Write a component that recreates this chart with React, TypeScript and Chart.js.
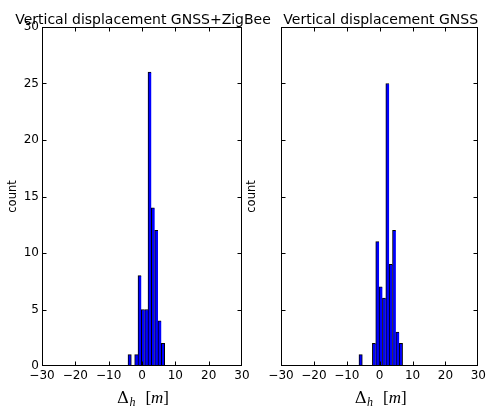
import React, { useEffect, useRef } from "react";
import { Chart, registerables } from "chart.js";

Chart.register(...registerables);

// ---- data ----
const LEFT_TITLE = "Vertical displacement GNSS+ZigBee";
const RIGHT_TITLE = "Vertical displacement GNSS";
const Y_LABEL = "count";
const X_TICKS = [-30, -20, -10, 0, 10, 20, 30];
const Y_TICKS = [0, 5, 10, 15, 20, 25, 30];

const leftBinCenters = [-3.7, -2.7, -1.7, -0.7, 0.3, 1.3, 2.3, 3.3, 4.3, 5.3, 6.3];
const leftCounts = [1, 0, 1, 8, 5, 5, 26, 14, 12, 4, 2];

const rightBinCenters = [-5.79, -4.77, -3.75, -2.73, -1.71, -0.69, 0.33, 1.35, 2.37, 3.39, 4.41, 5.43, 6.45];
const rightCounts = [1, 0, 0, 0, 2, 11, 7, 6, 25, 9, 12, 3, 2];

const SANS = '"DejaVu Sans", sans-serif';

function fmt(v: number | string) {
  const n = Number(v);
  return n < 0 ? "\u2212" + Math.abs(n) : String(n);
}

function makeDecor(title: string) {
  return {
    id: "decor",
    afterDraw(chart: any) {
      const { ctx, chartArea: a, scales } = chart;
      const xs = scales.x;
      const ys = scales.y;
      const L = Math.round(a.left) + 0.5;
      const R = Math.round(a.right) - 0.5;
      const T = Math.round(a.top) + 0.5;
      const B = Math.round(a.bottom) - 0.5;
      const clamp = (v: number, lo: number, hi: number) => Math.min(Math.max(v, lo), hi);
      ctx.save();
      ctx.strokeStyle = "#000";
      ctx.lineWidth = 1;
      ctx.strokeRect(L, T, R - L, B - T);
      ctx.beginPath();
      for (const v of X_TICKS) {
        const px = clamp(Math.round(xs.getPixelForValue(v)) + 0.5, L, R);
        ctx.moveTo(px, B);
        ctx.lineTo(px, B - 4);
        ctx.moveTo(px, T);
        ctx.lineTo(px, T + 4);
      }
      for (const v of Y_TICKS) {
        const py = clamp(Math.round(ys.getPixelForValue(v)) + 0.5, T, B);
        ctx.moveTo(L, py);
        ctx.lineTo(L + 4, py);
        ctx.moveTo(R, py);
        ctx.lineTo(R - 4, py);
      }
      ctx.stroke();

      const cx = (a.left + a.right) / 2 + 1;
      // title
      ctx.fillStyle = "#000";
      ctx.font = "14px " + SANS;
      ctx.textAlign = "center";
      ctx.textBaseline = "alphabetic";
      ctx.fillText(title, cx, 24);

      // y label
      ctx.save();
      ctx.translate(a.left - 29, (a.top + a.bottom) / 2);
      ctx.rotate(-Math.PI / 2);
      ctx.font = "11.5px " + SANS;
      ctx.textAlign = "center";
      ctx.textBaseline = "middle";
      ctx.fillText(Y_LABEL, 0, 0);
      ctx.restore();

      // x label: Δ_h [m]
      const parts = [
        { t: "\u0394", f: '16.5px "DejaVu Serif", serif', dy: 0, gap: 0 },
        { t: "h", f: 'italic 12px "Liberation Serif", serif', dy: 3, gap: 0.5 },
        { t: "[", f: '17px "Liberation Serif", serif', dy: 0, gap: 10 },
        { t: "m", f: 'italic 17px "Liberation Serif", serif', dy: 0, gap: 0 },
        { t: "]", f: '17px "Liberation Serif", serif', dy: 0, gap: 0 },
      ];
      let total = 0;
      const widths: number[] = [];
      for (const p of parts) {
        ctx.font = p.f;
        const w = ctx.measureText(p.t).width;
        widths.push(w);
        total += w + p.gap;
      }
      let x = cx - total / 2;
      ctx.textAlign = "left";
      ctx.textBaseline = "alphabetic";
      parts.forEach((p, i) => {
        x += p.gap;
        ctx.font = p.f;
        ctx.fillText(p.t, x, 403 + p.dy);
        x += widths[i];
      });
      ctx.restore();
    },
  };
}

type HistProps = {
  centers: number[];
  counts: number[];
  title: string;
  showY: boolean;
  padLeft: number;
  padRight: number;
  yWidth: number;
};

function Hist({ centers, counts, title, showY, padLeft, padRight, yWidth }: HistProps) {
  const ref = useRef<HTMLCanvasElement>(null);
  useEffect(() => {
    if (!ref.current) return;
    const tickFont = { family: SANS, size: 12 };
    const chart = new Chart(ref.current, {
      type: "bar",
      data: {
        datasets: [
          {
            data: centers.map((c, i) => ({ x: c, y: counts[i] })),
            backgroundColor: "#0000ff",
            borderColor: "#000000",
            borderWidth: (c: any) => {
              const next = counts[c.dataIndex + 1];
              return { top: 1, left: 1, bottom: 0, right: next > 0 ? 0 : 1 };
            },
            borderSkipped: false,
            barPercentage: 1,
            categoryPercentage: 1,
          } as any,
        ],
      },
      options: {
        responsive: false,
        animation: false,
        devicePixelRatio: 1,
        layout: { padding: { left: padLeft, right: padRight, top: 27, bottom: 0 } },
        plugins: {
          legend: { display: false },
          tooltip: { enabled: false },
          title: { display: false },
        },
        scales: {
          x: {
            type: "linear",
            min: -30,
            max: 30,
            offset: false,
            grid: { display: false, drawTicks: false, offset: false },
            border: { display: false },
            ticks: {
              stepSize: 10,
              padding: 3,
              font: tickFont,
              color: "#000",
              maxRotation: 0,
              autoSkip: false,
              callback: (v: any) => fmt(v),
            },
            afterFit: (s: any) => {
              s.height = 42;
            },
          },
          y: {
            min: 0,
            max: 30,
            grid: { display: false, drawTicks: false },
            border: { display: false },
            ticks: {
              display: showY,
              stepSize: 5,
              padding: 3,
              font: tickFont,
              color: "#000",
              callback: (v: any) => fmt(v),
            },
            afterFit: (s: any) => {
              s.width = yWidth;
            },
          },
        },
      } as any,
      plugins: [makeDecor(title)],
    });
    return () => chart.destroy();
  }, []);
  return (
    <canvas
      ref={ref}
      width={489}
      height={408}
      style={{ position: "absolute", left: 0, top: 0, width: 489, height: 408 }}
    />
  );
}

export default function App() {
  return (
    <div style={{ position: "fixed", left: 0, top: 0, width: 489, height: 408, background: "#fff" }}>
      <Hist centers={leftBinCenters} counts={leftCounts} title={LEFT_TITLE} showY={true} padLeft={0} padRight={247} yWidth={42} />
      <Hist centers={rightBinCenters} counts={rightCounts} title={RIGHT_TITLE} showY={false} padLeft={271} padRight={9} yWidth={10} />
    </div>
  );
}
